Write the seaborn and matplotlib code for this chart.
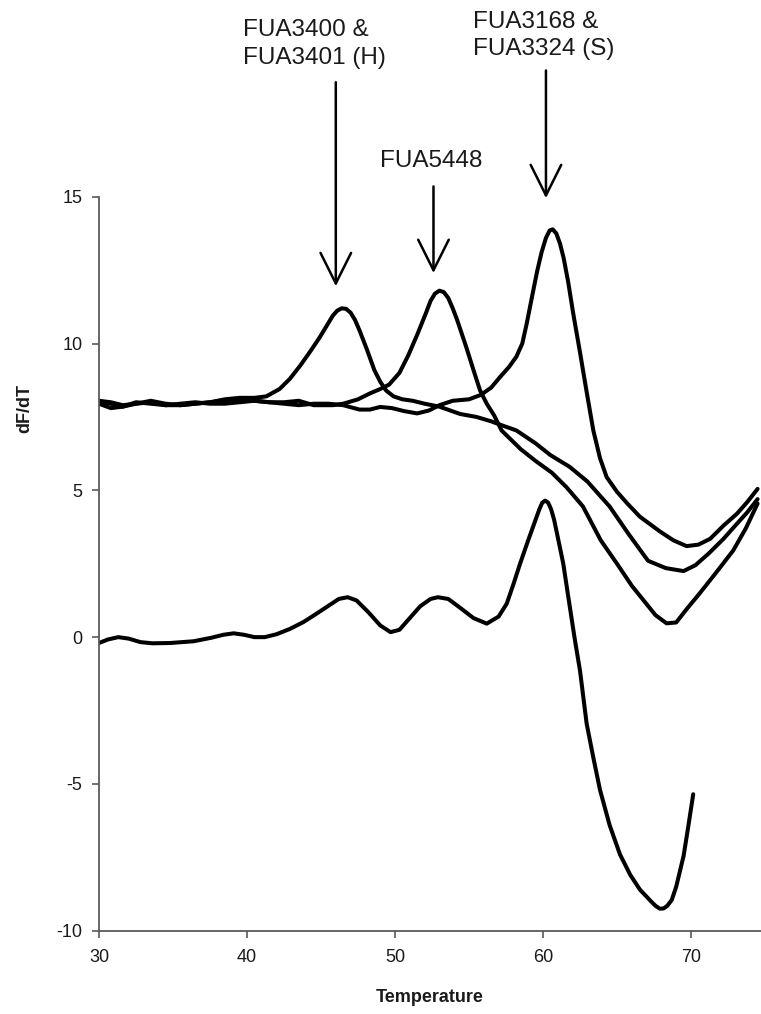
import matplotlib
matplotlib.use("Agg")
import matplotlib.pyplot as plt
import seaborn as sns
import pandas as pd

# --- data (temperature, dF/dT) ---
temp_h = [30, 30.8, 31.6, 32.5, 33.5, 34.5, 35.5, 36.5, 37.5, 38.5, 39.5, 40.5, 41.3, 42.2,
          42.9, 43.6, 44.3, 44.9, 45.5, 45.8, 46.1, 46.4, 46.7, 47.0, 47.3, 47.6, 48.1, 48.6,
          49.0, 49.4, 49.9, 50.5, 51.2, 52.0, 53.0, 54.4, 55.5, 56.5, 57.3, 58.2, 59.5, 60.5,
          61.8, 63.0, 64.5, 65.8, 67.1, 68.3, 69.5, 70.3, 71.2, 72.2, 73.1, 73.8, 74.5]
dfdt_h = [8.05, 8.0, 7.9, 7.95, 8.05, 7.95, 7.9, 7.95, 8.0, 8.1, 8.15, 8.15, 8.2, 8.45,
          8.8, 9.25, 9.75, 10.2, 10.7, 10.95, 11.12, 11.2, 11.18, 11.05, 10.8, 10.45, 9.8, 9.1,
          8.7, 8.4, 8.2, 8.1, 8.05, 7.95, 7.85, 7.6, 7.5, 7.35, 7.2, 7.04, 6.6, 6.2,
          5.8, 5.3, 4.45, 3.5, 2.6, 2.35, 2.25, 2.45, 2.85, 3.35, 3.86, 4.25, 4.7]

temp_5448 = [30, 30.8, 31.6, 32.5, 33.5, 34.5, 35.5, 36.5, 37.5, 38.5, 39.5, 40.5, 41.5, 42.5,
             43.5, 44.5, 45.8, 46.5, 47.5, 48.3, 49.0, 49.6, 50.3, 50.9, 51.5, 52.1, 52.4, 52.7,
             53.0, 53.3, 53.6, 53.9, 54.2, 54.8, 55.3, 55.75, 56.2, 56.7, 57.2, 58.5, 59.5, 60.6,
             61.6, 62.7, 63.9, 65.0, 66.0, 66.8, 67.6, 68.35, 69.0, 69.7, 70.6, 71.7, 72.85,
             73.7, 74.5]
dfdt_5448 = [7.95, 7.8, 7.85, 8.0, 7.95, 7.9, 7.95, 8.0, 7.95, 7.95, 8.0, 8.05, 8.0, 8.0,
             8.05, 7.9, 7.9, 7.95, 8.1, 8.3, 8.45, 8.6, 9.0, 9.6, 10.3, 11.05, 11.45, 11.7,
             11.8, 11.75, 11.55, 11.2, 10.8, 9.9, 9.1, 8.4, 7.95, 7.55, 7.04, 6.4, 6.0, 5.6,
             5.1, 4.45, 3.3, 2.5, 1.75, 1.25, 0.75, 0.47, 0.5, 0.95, 1.5, 2.2, 2.95,
             3.7, 4.55]

temp_s = [30, 30.8, 31.6, 32.5, 33.5, 34.5, 35.5, 36.5, 37.5, 38.5, 39.5, 40.5, 41.5, 42.5,
          43.5, 44.5, 45.5, 46.5, 47.6, 48.3, 49.0, 49.8, 50.6, 51.5, 52.3, 53.0, 53.9, 55.0,
          55.8, 56.5, 57.1, 57.7, 58.2, 58.6, 58.9, 59.3, 59.6, 59.9, 60.2, 60.45, 60.65, 60.9,
          61.15, 61.4, 61.7, 62.05, 62.5, 62.95, 63.4, 63.85, 64.3, 65.0, 65.7, 66.55, 67.9,
          68.8, 69.7, 70.5, 71.3, 72.2, 73.1, 73.8, 74.5]
dfdt_s = [8.0, 7.95, 7.85, 7.95, 8.0, 7.9, 7.9, 7.95, 8.0, 8.05, 8.1, 8.05, 8.0, 7.95,
          7.9, 7.95, 7.95, 7.9, 7.75, 7.75, 7.84, 7.8, 7.7, 7.62, 7.72, 7.9, 8.05, 8.1,
          8.25, 8.5, 8.86, 9.2, 9.55, 10.0, 10.68, 11.7, 12.45, 13.1, 13.6, 13.85, 13.89, 13.75,
          13.4, 12.9, 12.1, 11.0, 9.7, 8.35, 7.04, 6.1, 5.45, 4.95, 4.55, 4.1, 3.6,
          3.3, 3.1, 3.15, 3.35, 3.8, 4.2, 4.6, 5.05]

temp_d = [30, 30.6, 31.3, 32.0, 32.8, 33.6, 34.8, 36.4, 37.6, 38.4, 39.1, 39.8, 40.5, 41.2,
          42.0, 42.9, 43.8, 44.7, 45.6, 46.2, 46.8, 47.4, 48.2, 49.0, 49.7, 50.3, 51.0, 51.7,
          52.4, 52.9, 53.6, 54.4, 55.3, 56.2, 57.0, 57.55, 58.0, 58.45, 59.0, 59.5, 59.75, 59.95,
          60.15, 60.35, 60.55, 60.75, 61.0, 61.37, 61.7, 62.16, 62.5, 62.95, 63.4, 63.85, 64.5,
          65.2, 65.9, 66.55, 67.3, 67.6, 67.9, 68.15, 68.4, 68.7, 69.0, 69.5, 69.8, 70.15]
dfdt_d = [-0.2, -0.08, 0.0, -0.05, -0.17, -0.21, -0.2, -0.14, -0.02, 0.08, 0.13, 0.08, 0.0, 0.0,
          0.1, 0.28, 0.51, 0.8, 1.1, 1.3, 1.36, 1.25, 0.85, 0.4, 0.17, 0.25, 0.65, 1.05,
          1.3, 1.36, 1.3, 1.0, 0.65, 0.46, 0.7, 1.14, 1.8, 2.5, 3.3, 4.0, 4.35, 4.58,
          4.65, 4.58, 4.35, 4.0, 3.4, 2.5, 1.4, -0.11, -1.14, -2.95, -4.1, -5.2, -6.4,
          -7.4, -8.1, -8.6, -9.0, -9.15, -9.25, -9.24, -9.15, -8.95, -8.5, -7.45, -6.5, -5.35]

# peak labels with arrow (x, arrow top, arrow tip) and text anchor
labels = ["FUA3400 &\nFUA3401 (H)", "FUA5448", "FUA3168 &\nFUA3324 (S)"]
arrow_x = [46.0, 52.6, 60.2]
arrow_top = [18.9, 15.35, 19.3]
arrow_tip = [11.95, 12.4, 14.95]
text_xy = [(39.75, 20.2), (52.47, 16.22), (55.25, 20.5)]
text_ha = ["left", "center", "left"]

sns.set_theme(style="ticks")
plt.rcParams["font.family"] = ["Liberation Sans", "DejaVu Sans"]
plt.rcParams["axes.unicode_minus"] = False

curves = pd.concat([
    pd.DataFrame({"Temperature": temp_h, "dF/dT": dfdt_h, "sample": "H"}),
    pd.DataFrame({"Temperature": temp_5448, "dF/dT": dfdt_5448, "sample": "FUA5448"}),
    pd.DataFrame({"Temperature": temp_s, "dF/dT": dfdt_s, "sample": "S"}),
    pd.DataFrame({"Temperature": temp_d, "dF/dT": dfdt_d, "sample": "diff"}),
])

fig = plt.figure(figsize=(7.61, 10.14), dpi=100)
ax = fig.add_axes([0.1301, 0.0821, 0.8699, 0.7239])

for name, grp in curves.groupby("sample", sort=False):
    sns.lineplot(data=grp, x="Temperature", y="dF/dT", sort=False, estimator=None,
                 color="black", lw=2.9, ax=ax, solid_joinstyle="round",
                 solid_capstyle="round")

for lab, ax_x, top, tip, (tx, ty), ha in zip(labels, arrow_x, arrow_top, arrow_tip, text_xy, text_ha):
    ax.annotate("", xy=(ax_x, tip), xytext=(ax_x, top), annotation_clip=False,
                arrowprops=dict(arrowstyle="->,head_length=2.2,head_width=1.1",
                                mutation_scale=10, lw=1.8, color="black",
                                shrinkA=0, shrinkB=0))
    ax.text(tx, ty, lab, ha=ha, va="center", fontsize=17.5, linespacing=1.3,
            color="#1a1a1a", clip_on=False)

ax.set_xlim(30, 74.73)
ax.set_ylim(-10, 15)
ax.set_xticks([30, 40, 50, 60, 70])
ax.set_yticks([-10, -5, 0, 5, 10, 15])
sns.despine(ax=ax)
for side in ["left", "bottom"]:
    ax.spines[side].set_color("#5a5a5a")
    ax.spines[side].set_linewidth(1.3)
ax.tick_params(axis="both", direction="out", length=5, width=1.2, color="#5a5a5a",
               labelsize=13, labelcolor="#1a1a1a")
ax.tick_params(axis="x", pad=8)
ax.tick_params(axis="y", pad=7)

ax.set_xlabel("Temperature", fontsize=13, fontweight="bold", color="#1a1a1a")
ax.set_ylabel("dF/dT", fontsize=13, fontweight="bold", color="#1a1a1a")
ax.xaxis.set_label_coords(0.5, -0.079)
ax.yaxis.set_label_coords(-0.1, 0.712)

fig.savefig("out.png", dpi=100)
